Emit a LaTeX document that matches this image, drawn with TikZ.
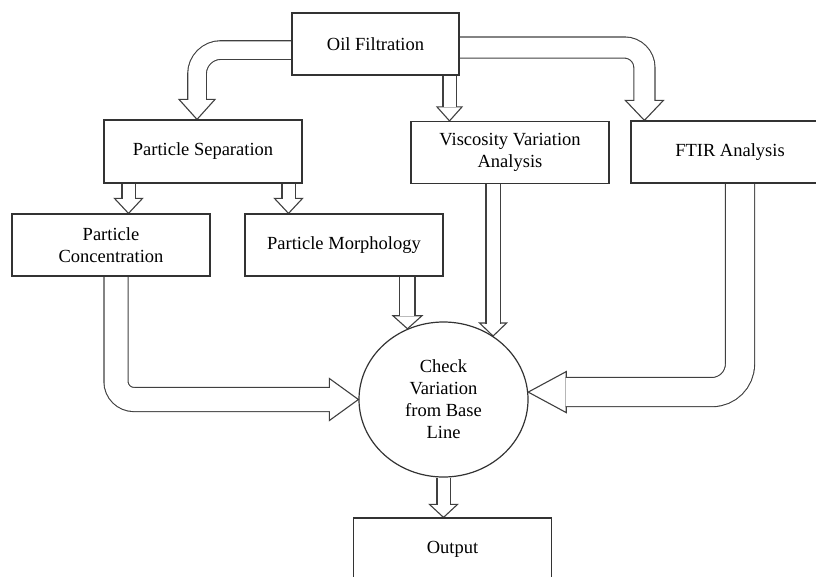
\documentclass[tikz,border=0pt]{standalone}
\usepackage{fontspec}
\setmainfont{Liberation Serif}
\usetikzlibrary{shapes.geometric, backgrounds}

\tikzset{
  box/.style={draw=black!80, line width=1.2pt, minimum width=198pt, minimum height=62pt, inner sep=2pt, align=center, font=\fontsize{18.5}{22}\selectfont},
  pipe/.style={draw=black!75, line width=1.1pt, double=white, double distance=#1},
  head/.style={draw=black!75, line width=1.1pt, fill=white, line join=miter}
}

\begin{document}
\begin{tikzpicture}[x=1pt, y=-1pt]
    \useasboundingbox (0,0) rectangle (816,576);
    \clip (0,0) rectangle (816,576);

    % Boxes
    \node[box, minimum width=167pt] (oil) at (375.5,44) {Oil Filtration};
    \node[box, minimum height=63pt] (sep) at (203,151.5) {Particle Separation};
    \node[box] (visc) at (510,152.5) {Viscosity Variation\\Analysis};
    \node[box] (ftir) at (730,152) {FTIR Analysis};
    \node[box] (conc) at (111,245) {Particle\\Concentration};
    \node[box] (morph) at (344,245) {Particle Morphology};
    \node[ellipse, draw=black!80, line width=1.2pt, minimum width=169pt, minimum height=155pt, inner sep=0pt, align=center, font=\fontsize{18.5}{22}\selectfont] (check) at (443.5,399.5) {Check\\Variation\\from Base\\Line};
    \node[box] (out) at (452.5,549) {Output};

    \begin{scope}[on background layer]
    % Oil Filtration to the three analyses
    \coordinate (t1) at ([xshift=-6pt]sep.north);
    \draw[head] (t1) -- ++(-18,-20) -- ++(36,0) -- cycle;
    \draw[pipe=17.5pt, rounded corners=24pt] ([yshift=-6pt]oil.west) -| ([yshift=19.5pt]t1);

    \coordinate (t2) at ([xshift=-60.5pt]visc.north);
    \draw[head] (t2) -- ++(-12.5,-14) -- ++(25,0) -- cycle;
    \draw[pipe=12pt] (t2 |- oil.south) -- ([yshift=13.5pt]t2);

    \coordinate (t3) at ([xshift=14pt]ftir.north west);
    \draw[head] (t3) -- ++(-19,-20) -- ++(38,0) -- cycle;
    \draw[pipe=20pt, rounded corners=20pt] ([yshift=-3.5pt]oil.east) -| ([yshift=19.5pt]t3);

    % Particle Separation to its two results
    \coordinate (t4) at ([xshift=17.5pt]conc.north);
    \draw[head] (t4) -- ++(-14,-15) -- ++(28,0) -- cycle;
    \draw[pipe=12pt] (t4 |- sep.south) -- ([yshift=14.5pt]t4);

    \coordinate (t5) at ([xshift=-55.5pt]morph.north);
    \draw[head] (t5) -- ++(-14,-15) -- ++(28,0) -- cycle;
    \draw[pipe=12pt] (t5 |- sep.south) -- ([yshift=14.5pt]t5);

    % Everything into the check
    \coordinate (t6) at (check.west);
    \draw[head] (t6) -- ++(-29,-21) -- ++(0,42) -- cycle;
    \draw[pipe=23pt, rounded corners=18pt] ([xshift=5pt]conc.south) |- ([xshift=-28.5pt]t6);

    \coordinate (t7) at (check.117);
    \draw[head] (t7) -- ++(-14.5,-13) -- ++(29,0) -- cycle;
    \draw[pipe=14pt] (t7 |- morph.south) -- ([yshift=12.5pt]t7);

    \coordinate (t8) at (check.52);
    \draw[head] (t8) -- ++(-13.5,-13) -- ++(27,0) -- cycle;
    \draw[pipe=13pt] (t8 |- visc.south) -- ([yshift=12.5pt]t8);

    \coordinate (t9) at (check.5);
    \draw[head] (t9) -- ++(38,-20.5) -- ++(0,41) -- cycle;
    \draw[pipe=28pt, rounded corners=28pt] ([xshift=10pt]ftir.south) |- ([xshift=37.5pt]t9);

    % Check to Output
    \coordinate (t10) at (check.south |- out.north);
    \draw[head] (t10) -- ++(-14,-13) -- ++(28,0) -- cycle;
    \draw[pipe=12pt] (check.south) -- ([yshift=12.5pt]t10);
    \end{scope}
\end{tikzpicture}
\end{document}
